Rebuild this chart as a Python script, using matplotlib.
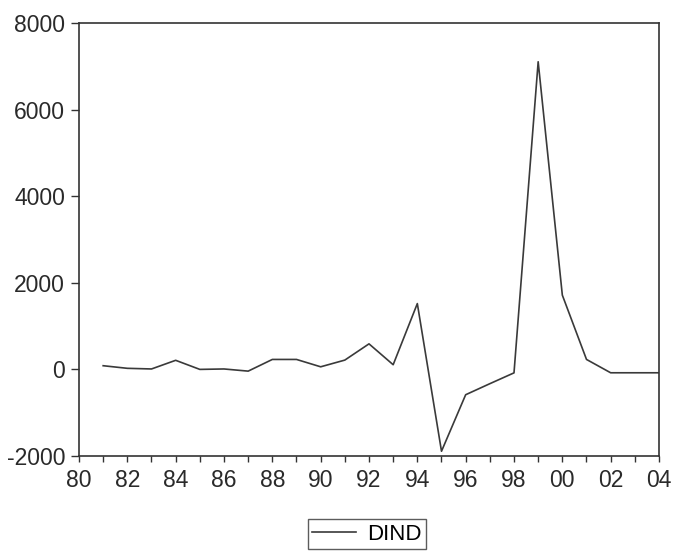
import matplotlib
matplotlib.use("Agg")
import matplotlib.pyplot as plt
from matplotlib.ticker import MultipleLocator, FixedLocator

plt.rcParams['font.family'] = ['Liberation Sans', 'DejaVu Sans']

years = list(range(1981, 2005))
dind = [85, 25, 10, 210, 0, 10, -40, 230, 230, 60, 215, 590, 108, 1520,
        -1890, -585, -330, -80, 7105, 1715, 230, -78, -78, -78]
xtick_pos = list(range(1980, 2005, 2))
xtick_labels = ['80', '82', '84', '86', '88', '90', '92', '94', '96', '98', '00', '02', '04']
ytick_pos = [-2000, 0, 2000, 4000, 6000, 8000]
ytick_labels = ['-2000', '0', '2000', '4000', '6000', '8000']

fig = plt.figure(figsize=(6.73, 5.58), dpi=100)
ax = fig.add_axes([79/673, 1-456/558, (659-79)/673, (456-23)/558])
line, = ax.plot(years, dind, color='#3a3a3a', linewidth=1.2, label='DIND')
ax.set_xlim(1980, 2004)
ax.set_ylim(-2000, 8000)
ax.xaxis.set_major_locator(FixedLocator(xtick_pos))
ax.set_xticklabels(xtick_labels)
ax.xaxis.set_minor_locator(MultipleLocator(1))
ax.set_yticks(ytick_pos)
ax.set_yticklabels(ytick_labels)
ax.tick_params(axis='both', which='both', direction='out', colors='#333333',
               labelcolor='#2a2a2a', labelsize=16.5, width=1.0)
ax.tick_params(axis='y', which='major', length=6, pad=4)
ax.tick_params(axis='x', which='both', length=4.5, pad=5)
for s in ax.spines.values():
    s.set_color('#333333')
    s.set_linewidth(1.2)

fig.legend(handles=[line], labels=['DIND'], loc='center',
           bbox_to_anchor=(367/673, 1-534/558), frameon=True, fancybox=False,
           edgecolor='#333333', fontsize=16, handlelength=2.0,
           borderpad=0.2, handletextpad=0.5)

fig.savefig('out.png', dpi=100, facecolor='white')
